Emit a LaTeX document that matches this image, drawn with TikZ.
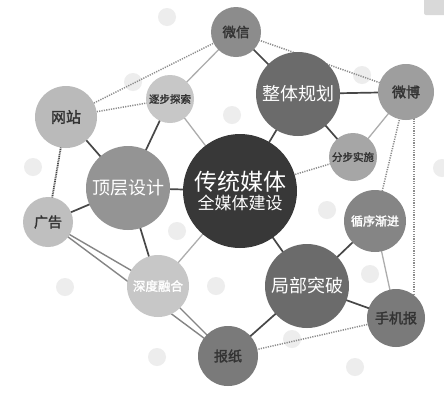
\documentclass[tikz,border=0pt]{standalone}
\usepackage{fontspec}
\newfontfamily\cjk[AutoFakeBold=2]{Noto Sans CJK SC}
\pgfdeclarelayer{dotlayer}
\pgfdeclarelayer{edgelayer}
\pgfsetlayers{dotlayer,edgelayer,main}
\begin{document}
\begin{tikzpicture}[x=1pt,y=-1pt,
  ball/.style={circle,inner sep=0pt,font=\cjk,align=center},
  darklbl/.style={text=black!80},
  strong/.style={draw=black!72,line width=1.7pt},
  soft/.style={draw=black!32,line width=1.3pt},
  mid/.style={draw=black!48,line width=1.4pt},
  dots/.style={draw=black!45,line width=1.5pt,dash pattern=on 1.2pt off 1.2pt},
  densedots/.style={draw=black!72,line width=1.8pt,dash pattern=on 1pt off 0.8pt},
]
\begin{pgfonlayer}{dotlayer}
\useasboundingbox (0,0) rectangle (444,400);
\fill[white] (0,0) rectangle (444,400);
\fill[black!15,rounded corners=2pt] (424,-5) rectangle (450,15);
\foreach \p in {(167,17),(133,82),(33,167),(362,75),(232,115),(442,168),(177,231),(65,287),(157,357),(216,286),(327,210),(370,274),(292,339),(355,367)}
  \fill[black!7] \p circle (9);
\end{pgfonlayer}

% nodes
\node[ball,minimum size=114pt,fill=black!78,text=white] (c) at (240,191)
  {\fontsize{23}{26}\selectfont 传统媒体\\[2pt]\fontsize{17}{20}\selectfont 全媒体建设};
\node[ball,minimum size=84pt,fill=black!58,text=white,font=\cjk\fontsize{18}{20}\selectfont] (zt) at (298,94) {整体规划};
\node[ball,minimum size=84pt,fill=black!58,text=white,font=\cjk\fontsize{18}{20}\selectfont] (jb) at (307,286) {局部突破};
\node[ball,minimum size=84pt,fill=black!42,text=white,font=\cjk\fontsize{18}{20}\selectfont] (dc) at (128,188) {顶层设计};
\node[ball,minimum size=50pt,fill=black!45,darklbl,font=\cjk\bfseries\fontsize{13.5}{15}\selectfont] (wx) at (236,32) {微信};
\node[ball,minimum size=56pt,fill=black!38,darklbl,font=\cjk\bfseries\fontsize{14}{15}\selectfont] (wb) at (406,92) {微博};
\node[ball,minimum size=48pt,fill=black!35,darklbl,font=\cjk\bfseries\fontsize{10.5}{12}\selectfont] (fb) at (353,157) {分步实施};
\node[ball,minimum size=48pt,fill=black!22,darklbl,font=\cjk\bfseries\fontsize{10.5}{12}\selectfont] (zb) at (170,99) {逐步探索};
\node[ball,minimum size=62pt,fill=black!27,darklbl,font=\cjk\bfseries\fontsize{15}{16}\selectfont] (wz) at (66,117) {网站};
\node[ball,minimum size=50pt,fill=black!25,darklbl,font=\cjk\bfseries\fontsize{14}{15}\selectfont] (gg) at (48,222) {广告};
\node[ball,minimum size=62pt,fill=black!22,text=white,font=\cjk\bfseries\fontsize{12.5}{14}\selectfont] (sd) at (158,286) {深度融合};
\node[ball,minimum size=62pt,fill=black!48,text=white,font=\cjk\bfseries\fontsize{12}{14}\selectfont] (xx) at (375,221) {循序渐进};
\node[ball,minimum size=58pt,fill=black!52,darklbl,font=\cjk\bfseries\fontsize{14}{15}\selectfont] (sj) at (396,318) {手机报};
\node[ball,minimum size=60pt,fill=black!52,darklbl,font=\cjk\bfseries\fontsize{14}{15}\selectfont] (bz) at (228,356) {报纸};

\coordinate (wbd) at ([xshift=8pt]wb.center);
\coordinate (sjd) at ([xshift=18pt]sj.center);

\begin{pgfonlayer}{edgelayer}
% strong solid
\draw[strong] (wx.center) -- (zt.center);
\draw[strong] (zt.center) -- (c.center);
\draw[strong] (zt.center) -- (wb.center);
\draw[strong] (zt.center) -- (fb.center);
\draw[strong] (c.center) -- (dc.center);
\draw[strong] (dc.center) -- (zb.center);
\draw[strong] (dc.center) -- (wz.center);
\draw[strong] (dc.center) -- (gg.center);
\draw[strong] (dc.center) -- (sd.center);
\draw[strong] (c.center) -- (jb.center);
\draw[strong] (jb.center) -- (xx.center);
\draw[strong] (jb.center) -- (sj.center);
\draw[strong] (jb.center) -- (bz.center);
% soft solid
\draw[soft] (zb.center) -- (wx.center);
\draw[soft] (zb.center) -- (c.center);
\draw[soft] (fb.center) -- (wb.center);
\draw[soft] (c.center) -- (sd.center);
\draw[soft] (xx.center) -- (sj.center);
% medium solid
\draw[mid] (sd.center) -- (gg.center);
\draw[mid] (sd.center) -- (bz.center);
\draw[mid] (gg.center) -- (bz.center);
% dotted
\draw[dots] (wz.center) -- (wx.center);
\draw[dots] (wz.center) -- (zb.center);
\draw[dots] (wx.center) -- (wb.center);
\draw[dots] (c.center) -- (fb.center);
\draw[dots] (wb.center) -- (xx.center);
\draw[dots] (wbd) -- (sjd);
\draw[dots] (bz.center) -- (sj.center);
\draw[densedots] (wz.center) -- (gg.center);
\end{pgfonlayer}
\end{tikzpicture}
\end{document}
